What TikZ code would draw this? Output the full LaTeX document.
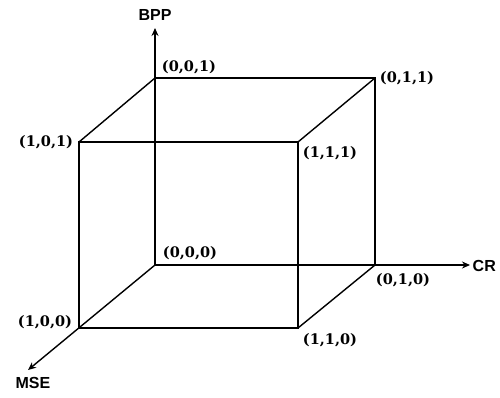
\documentclass[tikz,border=0pt]{standalone}
\usepackage{fontspec}
\newfontfamily\axisfont{Liberation Sans}
\newfontfamily\vertfont{DejaVu Serif}
\usetikzlibrary{arrows.meta}

\begin{document}
\begin{tikzpicture}[x=1pt,y=-1pt,>={Stealth[length=8pt,width=7pt]},line width=1.4pt,
  vlabel/.style={font=\vertfont\bfseries\fontsize{14.5}{14.5}\selectfont,inner sep=0pt},
  axlabel/.style={font=\axisfont\bfseries\fontsize{16}{16}\selectfont,inner sep=0pt}]
\useasboundingbox (0,0) rectangle (500,397);
% cube corners
\coordinate (c000) at (155,265); \coordinate (c001) at (155,78);
\coordinate (c011) at (375,78);  \coordinate (c010) at (375,265);
\coordinate (c101) at (79,142);  \coordinate (c111) at (298,142);
\coordinate (c100) at (79,328);  \coordinate (c110) at (298,328);
% axis ends
\coordinate (bpp) at (155,28); \coordinate (cr) at (470,265);
\coordinate (mse) at (28,370);
% axes
\draw[->] (c000)--(bpp);
\draw[->] (c000)--(cr);
\draw[->] (c000)--(mse);
\node[axlabel] (lbpp) at (155,15) {BPP};
\node[axlabel,anchor=west] (lcr) at (472,266) {CR};
\node[axlabel] (lmse) at (33,383) {MSE};
% cube edges
\draw (c001)--(c011)--(c010);
\draw (c101)--(c111)--(c110)--(c100)--cycle;
\draw (c001)--(c101);
\draw (c011)--(c111);
\draw (c010)--(c110);
% vertex labels
\node[vlabel] (l000) at (190,253) {(0,0,0)};
\node[vlabel] (l001) at (189,67) {(0,0,1)};
\node[vlabel] (l011) at (407,78) {(0,1,1)};
\node[vlabel] (l010) at (403,280) {(0,1,0)};
\node[vlabel] (l101) at (46,142) {(1,0,1)};
\node[vlabel] (l111) at (330,153) {(1,1,1)};
\node[vlabel] (l100) at (45,322) {(1,0,0)};
\node[vlabel] (l110) at (330,340) {(1,1,0)};
\end{tikzpicture}
\end{document}
